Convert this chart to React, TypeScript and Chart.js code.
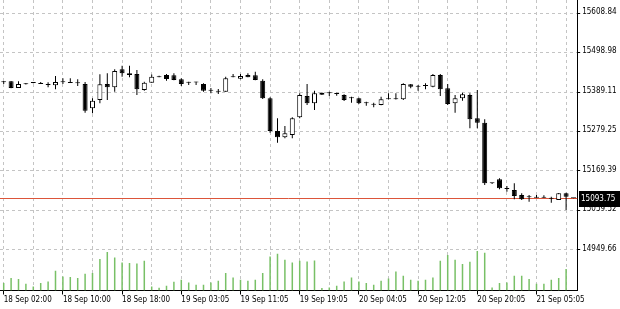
import React, { useEffect, useRef } from 'react';
import { Chart, registerables } from 'chart.js';

Chart.register(...registerables);

// ---- data ----
const opens = [
  15416.5, 15418.9, 15400.2, 15413.3, 15414.1, 15411.6, 15408.8, 15407.7, 15416.3, 15414.3,
  15413.5, 15411.4, 15343.8, 15366.9, 15411.4, 15402.2, 15452.2, 15441.1, 15439.2, 15394.7,
  15415.0, 15430.2, 15436.4, 15435.5, 15424.4, 15416.9, 15416.9, 15411.4, 15392.9, 15390.1,
  15389.9, 15430.2, 15426.1, 15436.4, 15435.5, 15420.5, 15371.6, 15280.6, 15263.1, 15269.5,
  15318.7, 15378.0, 15357.7, 15387.2, 15385.7, 15383.7, 15380.8, 15371.8, 15371.6, 15357.9,
  15354.0, 15353.0, 15369.0, 15369.0, 15368.8, 15410.5, 15404.1, 15406.0, 15403.9, 15436.4,
  15399.4, 15357.7, 15371.6, 15380.8, 15316.0, 15303.7, 15135.4, 15146.3, 15119.5, 15116.5,
  15102.6, 15096.4, 15095.3, 15095.3, 15092.5, 15088.7, 15107.4, 15093.9,
];
const highs = [
  15419.7, 15419.7, 15418.9, 15414.0, 15416.5, 15416.9, 15416.1, 15433.6, 15427.2, 15427.2,
  15424.4, 15416.9, 15371.6, 15438.3, 15441.1, 15452.2, 15462.3, 15462.3, 15450.3, 15417.8,
  15437.5, 15434.4, 15439.2, 15441.1, 15427.2, 15417.3, 15417.3, 15413.3, 15400.2, 15397.5,
  15431.7, 15439.2, 15439.2, 15441.1, 15445.6, 15424.4, 15374.4, 15316.0, 15294.6, 15318.7,
  15385.5, 15411.4, 15392.7, 15388.0, 15389.9, 15387.2, 15382.7, 15376.0, 15373.3, 15362.1,
  15359.4, 15376.0, 15385.5, 15385.5, 15413.3, 15411.4, 15408.6, 15413.3, 15439.2, 15439.2,
  15411.4, 15380.8, 15387.2, 15385.5, 15394.7, 15313.2, 15136.5, 15149.1, 15127.7, 15135.2,
  15107.4, 15102.6, 15102.6, 15102.0, 15097.9, 15108.0, 15109.0, 15094.0,
];
const lows = [
  15411.4, 15399.4, 15400.0, 15410.0, 15413.5, 15411.2, 15402.2, 15396.6, 15411.4, 15413.8,
  15405.8, 15331.5, 15329.9, 15357.7, 15366.9, 15389.9, 15431.7, 15430.0, 15380.8, 15392.7,
  15414.5, 15429.8, 15420.5, 15422.0, 15405.8, 15408.6, 15408.6, 15389.9, 15385.5, 15383.5,
  15389.5, 15429.8, 15424.4, 15429.8, 15422.0, 15369.6, 15275.9, 15248.1, 15260.3, 15260.3,
  15316.0, 15353.0, 15339.0, 15381.0, 15378.0, 15378.8, 15364.1, 15359.4, 15355.7, 15351.0,
  15346.6, 15352.5, 15368.5, 15368.5, 15366.9, 15399.4, 15392.7, 15396.6, 15402.2, 15378.0,
  15353.0, 15331.5, 15364.9, 15288.2, 15288.2, 15130.5, 15133.5, 15118.5, 15111.8, 15090.7,
  15088.7, 15084.0, 15094.9, 15094.9, 15081.2, 15088.5, 15060.9, 15093.5,
];
const closes = [
  15416.0, 15400.2, 15411.4, 15410.5, 15413.8, 15411.4, 15408.6, 15416.9, 15416.1, 15414.1,
  15413.3, 15337.1, 15364.9, 15410.5, 15402.2, 15447.5, 15441.1, 15436.4, 15396.6, 15415.0,
  15431.7, 15430.0, 15425.3, 15422.5, 15411.4, 15415.0, 15415.5, 15392.7, 15392.7, 15389.9,
  15427.2, 15430.0, 15433.6, 15430.0, 15422.5, 15371.6, 15280.6, 15263.1, 15274.2, 15316.0,
  15380.8, 15357.7, 15385.5, 15381.6, 15385.5, 15383.5, 15366.9, 15371.6, 15357.7, 15357.7,
  15353.8, 15368.8, 15368.8, 15368.8, 15411.4, 15403.9, 15403.9, 15405.8, 15436.4, 15396.6,
  15355.7, 15371.6, 15382.7, 15313.2, 15303.7, 15135.2, 15135.2, 15121.3, 15119.3, 15099.9,
  15090.7, 15096.2, 15095.1, 15095.1, 15092.3, 15107.4, 15097.9, 15093.75,
];
const volumes = [
  740, 1240, 1140, 670, 400, 740, 900, 1970, 1400, 1340,
  1240, 1670, 1740, 3140, 3840, 3300, 2800, 2740, 2700, 2970,
  400, 270, 470, 870, 1070, 800, 570, 570, 800, 970,
  1740, 1300, 1070, 970, 1070, 1740, 3400, 3670, 3070, 2800,
  2970, 2900, 3000, 240, 300, 470, 900, 1300, 900, 740,
  570, 970, 1200, 1900, 1470, 1070, 970, 1070, 1300, 2970,
  3540, 3070, 2640, 2870, 3940, 3770, 300, 740, 800, 1470,
  1470, 1140, 670, 670, 1070, 1240, 2140, 0,
];
const timeLabels = [
  '18 Sep 02:00', '18 Sep 10:00', '18 Sep 18:00', '19 Sep 03:05', '19 Sep 11:05',
  '19 Sep 19:05', '20 Sep 04:05', '20 Sep 12:05', '20 Sep 20:05', '21 Sep 05:05',
];
const priceTicks = [14949.66, 15059.52, 15169.39, 15279.25, 15389.11, 15498.98, 15608.84];
const currentPrice = 15093.75;
const PRICE_MIN = 14837.0;
const PRICE_MAX = 15645.0;
const VOLUME_AXIS_MAX = 29050;
const LABEL_EVERY = 8;
const GRID_EVERY = 4;

const FONT_FAMILY = "'DejaVu Sans Condensed', 'DejaVu Sans', sans-serif";
const FONT_SIZE = 8;

const pricePlugin = {
  id: 'pricePlugin',
  beforeDatasetsDraw(chart: any) {
    const { ctx, chartArea, scales } = chart;
    const y = Math.round(scales.y.getPixelForValue(currentPrice)) + 0.5;
    ctx.save();
    ctx.strokeStyle = '#dc553a';
    ctx.lineWidth = 1;
    ctx.beginPath();
    ctx.moveTo(chartArea.left, y);
    ctx.lineTo(chartArea.right, y);
    ctx.stroke();
    ctx.restore();
  },
  afterDraw(chart: any) {
    const { ctx, chartArea, scales } = chart;
    const y = Math.round(scales.y.getPixelForValue(currentPrice));
    const x0 = Math.round(chartArea.right) + 2;
    ctx.save();
    ctx.fillStyle = '#000';
    ctx.fillRect(x0, y - 7, chart.width - x0, 16);
    ctx.fillStyle = '#fff';
    ctx.font = `${FONT_SIZE}px ${FONT_FAMILY}`;
    ctx.textBaseline = 'middle';
    ctx.textAlign = 'left';
    ctx.fillText(currentPrice.toFixed(2), x0 + 2, y + 1);
    ctx.restore();
  },
};

export default function App() {
  const canvasRef = useRef<HTMLCanvasElement | null>(null);

  useEffect(() => {
    if (!canvasRef.current) return;
    const labels = opens.map((_, i) => i);
    const bodies = opens.map((o, i) => [o, closes[i]]);
    const wicks = opens.map((_, i) => [lows[i], highs[i]]);
    const bodyColors = opens.map((o, i) => (closes[i] > o ? '#ffffff' : '#000000'));
    const font = { family: FONT_FAMILY, size: FONT_SIZE };

    const chart = new Chart(canvasRef.current, {
      type: 'bar',
      data: {
        labels,
        datasets: [
          {
            label: 'Volume',
            data: volumes,
            yAxisID: 'yV',
            backgroundColor: '#78c066',
            barThickness: 1.5,
            grouped: false,
            inflateAmount: 0,
            order: 3,
          } as any,
          {
            label: 'Wick',
            data: wicks,
            yAxisID: 'y',
            backgroundColor: '#000000',
            barThickness: 1,
            grouped: false,
            inflateAmount: 0,
            order: 2,
          } as any,
          {
            label: 'Body',
            data: bodies,
            yAxisID: 'y',
            backgroundColor: bodyColors,
            borderColor: '#000000',
            borderWidth: 1,
            borderSkipped: false,
            barThickness: 5,
            minBarLength: 1,
            grouped: false,
            inflateAmount: 0,
            order: 1,
          } as any,
        ],
      },
      options: {
        animation: false,
        responsive: true,
        maintainAspectRatio: false,
        layout: { padding: 0 },
        plugins: { legend: { display: false }, tooltip: { enabled: false } },
        events: [],
        scales: {
          x: {
            type: 'category',
            offset: true,
            grid: {
              offset: false,
              color: (c: any) => (c.index % GRID_EVERY === 0 ? '#c4c4c4' : 'rgba(0,0,0,0)'),
              tickColor: (c: any) => (c.index % LABEL_EVERY === 0 ? '#000' : 'rgba(0,0,0,0)'),
              tickLength: 4,
              tickBorderDash: [],
              lineWidth: 1,
            },
            border: { display: true, color: '#000', width: 1, dash: [3, 3] },
            ticks: {
              autoSkip: false,
              maxRotation: 0,
              minRotation: 0,
              align: 'start',
              padding: 1,
              color: '#000',
              font,
              callback: (_v: any, i: number) =>
                i % LABEL_EVERY === 0 ? timeLabels[i / LABEL_EVERY] ?? '' : '',
            },
            afterFit: (s: any) => {
              s.height = 18.5;
              s.paddingLeft = 0;
              s.paddingRight = 0;
            },
          },
          y: {
            type: 'linear',
            position: 'right',
            min: PRICE_MIN,
            max: PRICE_MAX,
            grid: {
              color: '#c4c4c4',
              tickColor: '#000',
              tickLength: 3,
              tickBorderDash: [],
              lineWidth: 1,
            },
            border: { display: true, color: '#000', width: 1, dash: [3, 3] },
            afterBuildTicks: (s: any) => {
              s.ticks = priceTicks.map((v) => ({ value: v }));
            },
            ticks: {
              padding: 2,
              color: '#000',
              font,
              labelOffset: -1.5,
              callback: (v: any) => Number(v).toFixed(2),
            },
            afterFit: (s: any) => {
              s.width = 42.8;
              s.paddingTop = 0;
              s.paddingBottom = 0;
            },
          },
          yV: {
            type: 'linear',
            display: false,
            min: 0,
            max: VOLUME_AXIS_MAX,
          },
        },
      } as any,
      plugins: [pricePlugin],
    });
    return () => chart.destroy();
  }, []);

  return (
    <div style={{ position: 'fixed', left: 0, top: 0, width: 620, height: 309, background: '#fff' }}>
      <canvas ref={canvasRef} />
    </div>
  );
}
